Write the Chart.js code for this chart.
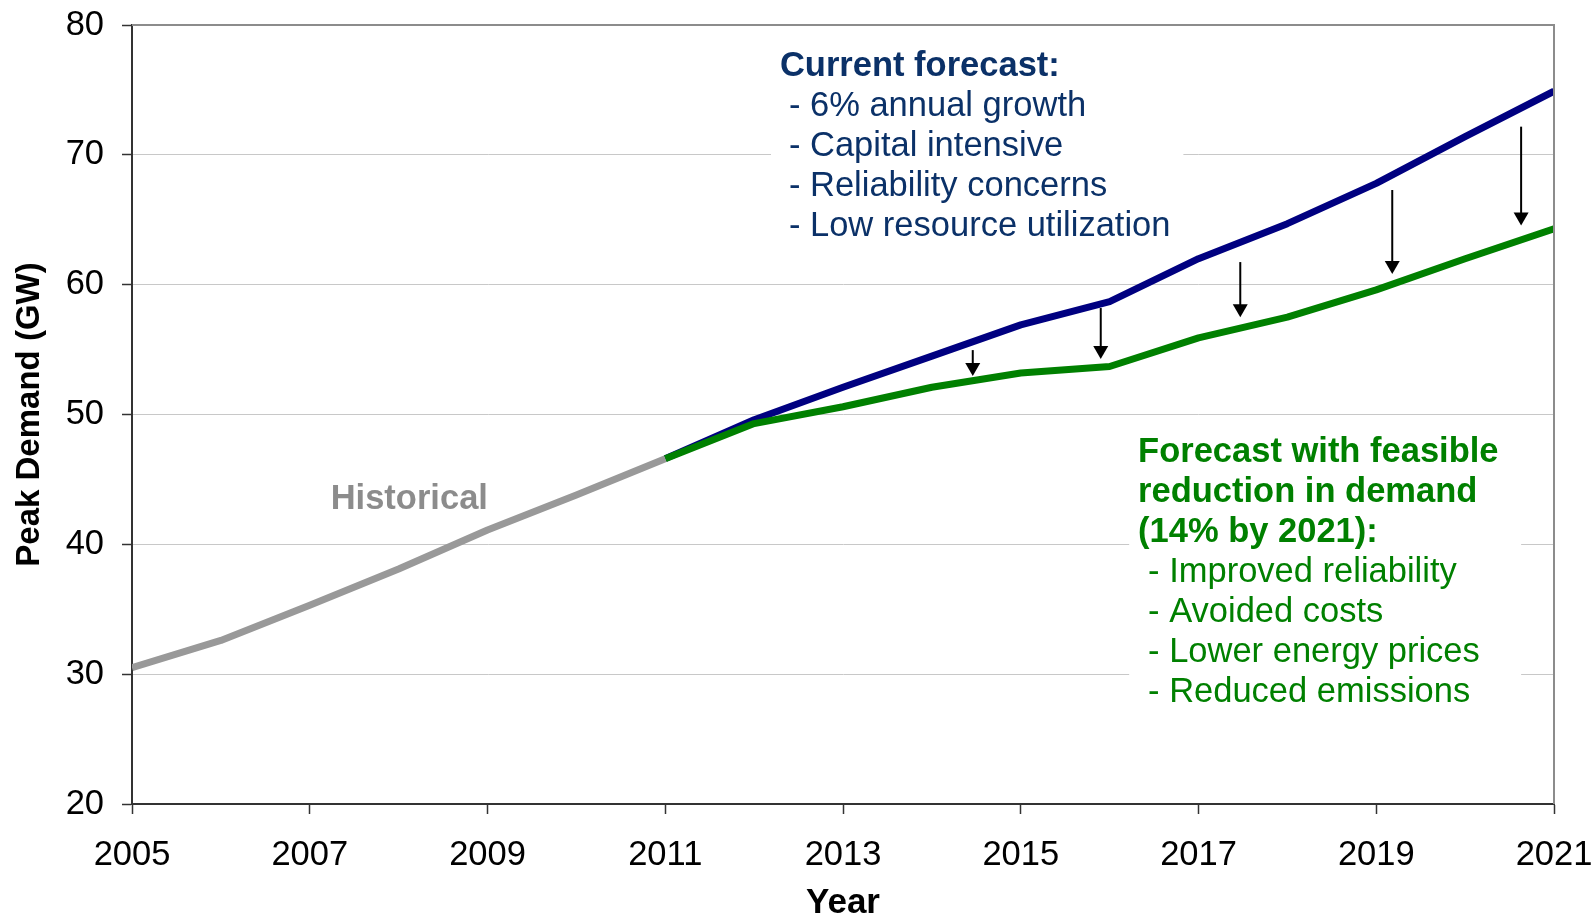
<!DOCTYPE html>
<html>
<head>
<meta charset="utf-8">
<script src="https://cdn.jsdelivr.net/npm/chart.js@4.4.1/dist/chart.umd.min.js"></script>
<style>
  html, body { margin: 0; padding: 0; background: #ffffff; }
  #wrap { width: 1594px; height: 914px; }
</style>
</head>
<body>
<div id="wrap"><canvas id="c" width="1594" height="914"></canvas></div>
<script>
// ---- data ----
const historicalYears = [2005, 2006, 2007, 2008, 2009, 2010, 2011];
const historicalValues = [30.5, 32.6, 35.3, 38.1, 41.1, 43.8, 46.6];

const forecastYears = [2011, 2012, 2013, 2014, 2015, 2016, 2017, 2018, 2019, 2020, 2021];
const currentForecast = [46.6, 49.6, 52.1, 54.5, 56.9, 58.7, 62.0, 64.7, 67.8, 71.4, 74.9];
const reducedForecast = [46.6, 49.3, 50.6, 52.1, 53.2, 53.7, 55.9, 57.5, 59.6, 62.0, 64.3];

const xTickValues = [2005, 2007, 2009, 2011, 2013, 2015, 2017, 2019, 2021];
const yTickValues = [20, 30, 40, 50, 60, 70, 80];

const arrowYears = [2014.46, 2015.9, 2017.47, 2019.18, 2020.63];
const arrowFrom = [54.96, 58.2, 61.74, 67.29, 72.17];
const arrowTo = [52.96, 54.27, 57.5, 60.82, 64.55];

const currentNoteLines = ['Current forecast:', '- 6% annual growth', '- Capital intensive', '- Reliability concerns', '- Low resource utilization'];
const reducedNoteLines = ['Forecast with feasible', 'reduction in demand', '(14% by 2021):', '- Improved reliability', '- Avoided costs', '- Lower energy prices', '- Reduced emissions'];
const historicalLabel = 'Historical';

// ---- styling / layout ----
const FONT = '"Liberation Sans", Arial, Helvetica, sans-serif';
const NAVY_LINE = '#000080';
const GREEN_LINE = '#008000';
const GREY_LINE = '#999999';
const NAVY_TEXT = '#0b3168';
const GREEN_TEXT = '#008000';
const TEXT_SIZE = 34.5;
const LINE_WIDTH = 7;

const notes = [
  { lines: currentNoteLines, boldCount: 1, color: NAVY_TEXT, x: 2012.29, y: 76.07, indent: 9,
    box: { x0: 2012.19, y0: 79.23, x1: 2016.83, y1: 62.67 } },
  { lines: reducedNoteLines, boldCount: 3, color: GREEN_TEXT, x: 2016.32, y: 46.34, indent: 10,
    box: { x0: 2016.22, y0: 49.19, x1: 2020.63, y1: 26.85 } }
];
const historicalPos = { x: 2008.12, y: 43.42 };

function toXY(xs, ys) { return xs.map((x, i) => ({ x: x, y: ys[i] })); }
function zeroPadding(s) { s.paddingTop = 0; s.paddingBottom = 0; s.paddingLeft = 0; s.paddingRight = 0; }

const annotationPlugin = {
  id: 'annotations',
  beforeDatasetsDraw(chart) {
    const ctx = chart.ctx, xs = chart.scales.x, ys = chart.scales.y;
    ctx.save();
    ctx.fillStyle = '#ffffff';
    notes.forEach(n => {
      const x0 = xs.getPixelForValue(n.box.x0), x1 = xs.getPixelForValue(n.box.x1);
      const y0 = ys.getPixelForValue(n.box.y0), y1 = ys.getPixelForValue(n.box.y1);
      ctx.fillRect(x0, y0, x1 - x0, y1 - y0);
    });
    ctx.restore();
  },
  afterDatasetsDraw(chart) {
    const ctx = chart.ctx, xs = chart.scales.x, ys = chart.scales.y, area = chart.chartArea;
    ctx.save();
    notes.forEach(n => {
      const px = xs.getPixelForValue(n.x), py = ys.getPixelForValue(n.y);
      ctx.fillStyle = n.color;
      ctx.textAlign = 'left';
      ctx.textBaseline = 'alphabetic';
      n.lines.forEach((line, i) => {
        const bold = i < n.boldCount;
        ctx.font = (bold ? 'bold ' : '') + TEXT_SIZE + 'px ' + FONT;
        ctx.fillText(line, px + (bold ? 0 : n.indent), py + i * 40);
      });
    });
    ctx.fillStyle = '#8c8c8c';
    ctx.font = 'bold ' + TEXT_SIZE + 'px ' + FONT;
    ctx.textAlign = 'center';
    ctx.textBaseline = 'middle';
    ctx.fillText(historicalLabel, xs.getPixelForValue(historicalPos.x), ys.getPixelForValue(historicalPos.y));
    ctx.strokeStyle = '#000000';
    ctx.fillStyle = '#000000';
    ctx.lineWidth = 2;
    arrowYears.forEach((yr, i) => {
      const px = xs.getPixelForValue(yr);
      const top = ys.getPixelForValue(arrowFrom[i]);
      const tip = ys.getPixelForValue(arrowTo[i]);
      const headLen = 13, headHalf = 7.5;
      ctx.beginPath();
      ctx.moveTo(px, top);
      ctx.lineTo(px, tip - headLen + 1);
      ctx.stroke();
      ctx.beginPath();
      ctx.moveTo(px - headHalf, tip - headLen);
      ctx.lineTo(px + headHalf, tip - headLen);
      ctx.lineTo(px, tip);
      ctx.closePath();
      ctx.fill();
    });
    ctx.strokeStyle = '#8c8c8c';
    ctx.lineWidth = 2;
    ctx.beginPath();
    ctx.moveTo(area.left, area.top);
    ctx.lineTo(area.right, area.top);
    ctx.lineTo(area.right, area.bottom);
    ctx.stroke();
    ctx.restore();
  }
};

const chart = new Chart(document.getElementById('c'), {
  type: 'line',
  data: {
    datasets: [
      { label: 'Current forecast', data: toXY(forecastYears, currentForecast), borderColor: NAVY_LINE,
        borderWidth: LINE_WIDTH, pointRadius: 0, tension: 0, borderJoinStyle: 'round', order: 3 },
      { label: 'Reduced forecast', data: toXY(forecastYears, reducedForecast), borderColor: GREEN_LINE,
        borderWidth: LINE_WIDTH, pointRadius: 0, tension: 0, borderJoinStyle: 'round', order: 2 },
      { label: 'Historical', data: toXY(historicalYears, historicalValues), borderColor: GREY_LINE,
        borderWidth: LINE_WIDTH, pointRadius: 0, tension: 0, borderJoinStyle: 'round', order: 1 }
    ]
  },
  options: {
    responsive: false,
    animation: false,
    devicePixelRatio: 1,
    layout: { padding: { top: 25, right: 40, bottom: 0, left: 0 } },
    plugins: { legend: { display: false }, tooltip: { enabled: false } },
    scales: {
      x: {
        type: 'linear', min: 2005, max: 2021,
        afterBuildTicks: s => { s.ticks = xTickValues.map(v => ({ value: v })); },
        afterFit: s => { s.height = 110; zeroPadding(s); },
        ticks: { color: '#000', font: { family: FONT, size: TEXT_SIZE }, padding: 21, maxRotation: 0, autoSkip: false,
                 callback: v => String(v) },
        grid: { drawOnChartArea: false, drawTicks: true, tickLength: 10, tickColor: '#333333', tickWidth: 1.5 },
        border: { display: true, color: '#333333', width: 2 },
        title: { display: true, text: 'Year', color: '#000', font: { family: FONT, size: 35, weight: 'bold', lineHeight: 0.6 },
                 padding: { top: 0, bottom: 0 } }
      },
      y: {
        type: 'linear', min: 20, max: 80,
        afterBuildTicks: s => { s.ticks = yTickValues.map(v => ({ value: v })); },
        afterFit: s => { s.width = 132; zeroPadding(s); },
        ticks: { color: '#000', font: { family: FONT, size: TEXT_SIZE }, padding: 18, callback: v => String(v) },
        grid: { color: '#c8c8c8', lineWidth: 1, drawTicks: true, tickLength: 10, tickColor: '#333333', tickWidth: 1.5 },
        border: { display: true, color: '#333333', width: 2 },
        title: { display: true, text: 'Peak Demand (GW)', color: '#000', font: { family: FONT, size: 33, weight: 'bold', lineHeight: 0.8 },
                 padding: { top: 17, bottom: 0 } }
      }
    }
  },
  plugins: [annotationPlugin]
});
</script>
</body>
</html>
